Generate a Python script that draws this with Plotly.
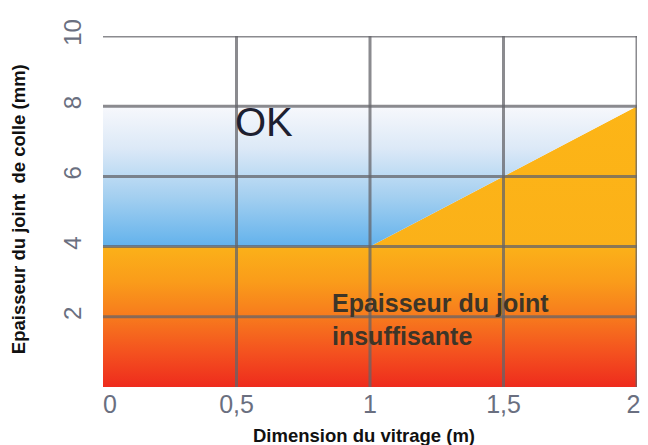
import plotly.graph_objects as go

# Data
boundary_x = [0, 1, 2]          # Dimension du vitrage (m)
boundary_y = [4, 4, 8]          # minimum joint thickness (mm)
y_top = 8
y_bottom = 0
x_ticks = [0, 0.5, 1, 1.5, 2]
x_ticktext = ["\u00a0\u00a00", "0,5", "1", "1,5", "2\u00a0"]
y_ticks = [2, 4, 6, 8, 10]
y_ticktext = ["2", "4", "6", "8", "10"]
x_grid = [0.5, 1, 1.5, 2]
y_grid = [2, 4, 6, 8, 10]

FONT = "Liberation Sans, Arial, sans-serif"

fig = go.Figure()

# Insufficient region (orange/red)
ox = [boundary_x[0]] + boundary_x + [boundary_x[-1]]
oy = [y_bottom] + boundary_y + [y_bottom]
fig.add_trace(go.Scatter(
    x=ox, y=oy, fill="toself", mode="lines", line=dict(width=0),
    fillgradient=dict(type="vertical", start=0, stop=8,
                      colorscale=[[0, "#ee2b1d"], [0.125, "#f4521f"], [0.25, "#f77a1d"],
                                  [0.375, "#fa9c1a"], [0.5, "#fbb119"], [1, "#fdb516"]]),
    hoverinfo="skip", showlegend=False))

# OK region (blue)
bx = boundary_x + [boundary_x[-1], boundary_x[0]]
by = boundary_y + [y_top, y_top]
fig.add_trace(go.Scatter(
    x=bx, y=by, fill="toself", mode="lines", line=dict(width=0),
    fillgradient=dict(type="vertical", start=4, stop=8,
                      colorscale=[[0, "#62b2ec"], [0.35, "#a3cff0"], [0.7, "#dce9f7"], [1, "#f7f8fc"]]),
    hoverinfo="skip", showlegend=False))

shapes = []
for gx in x_grid:
    shapes.append(dict(type="line", xref="x", yref="y", x0=gx, x1=gx, y0=0, y1=10,
                       line=dict(color="rgba(100,100,105,0.75)", width=3), layer="above"))
for gy in y_grid:
    shapes.append(dict(type="line", xref="x", yref="y", x0=0, x1=2, y0=gy, y1=gy,
                       line=dict(color="rgba(100,100,105,0.75)", width=3), layer="above"))

fig.update_layout(
    width=648, height=445,
    margin=dict(l=103, r=11, t=36, b=58),
    paper_bgcolor="white", plot_bgcolor="white",
    shapes=shapes,
    font=dict(family=FONT),
    xaxis=dict(range=[0, 2], tickvals=x_ticks, ticktext=x_ticktext, showgrid=False,
               zeroline=False, showline=False, ticks="", automargin=False,
               ticklabeloverflow="allow",
               tickfont=dict(size=25, color="#6a6f80")),
    yaxis=dict(range=[0, 10], tickvals=y_ticks, ticktext=y_ticktext, showgrid=False,
               zeroline=False, showline=False, ticks="", tickangle=-90, automargin=False,
               ticklabelstandoff=16,
               tickfont=dict(size=24, color="#6a6f80")),
    annotations=[
        dict(x=0.5, y=7.55, xref="x", yref="y", text="OK", showarrow=False,
             xanchor="left", yanchor="middle", xshift=-4,
             font=dict(size=40, color="#1e2030", family=FONT)),
        dict(x=0.86, y=1.92, xref="x", yref="y",
             text="<b>Epaisseur du joint<br>insuffisante</b>", showarrow=False,
             xanchor="left", yanchor="middle", align="left", xshift=-3,
             font=dict(size=25, color="#3d3528", family=FONT)),
        dict(x=-0.159, y=0.507, xref="paper", yref="paper",
             text="<b>Epaisseur du joint \u00a0de colle (mm)</b>", showarrow=False,
             textangle=-90, xanchor="center", yanchor="middle",
             font=dict(size=18.5, color="#111111", family=FONT)),
        dict(x=0.489, y=-0.137, xref="paper", yref="paper",
             text="<b>Dimension du vitrage (m)</b>", showarrow=False,
             xanchor="center", yanchor="middle",
             font=dict(size=18.5, color="#111111", family=FONT)),
    ],
)

fig.write_html("out.html", config={"displayModeBar": False},
               post_script="document.body.style.margin='0px';")
